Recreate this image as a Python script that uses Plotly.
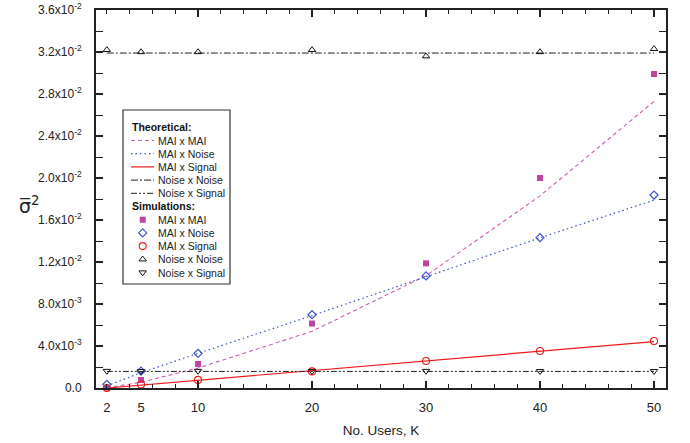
import plotly.graph_objects as go

# ---------------- data ----------------
K = [2, 5, 10, 20, 30, 40, 50]

# theoretical curves
theo_mai_mai = [0.00002, 0.00055, 0.0019, 0.0054, 0.0107, 0.0183, 0.0273]
theo_mai_noise = [0.0002, 0.00146, 0.0033, 0.0069, 0.0106, 0.0143, 0.0179]
theo_mai_signal = [0.0, 0.00028, 0.00074, 0.00166, 0.00258, 0.0035, 0.00442]
theo_noise_noise = [0.0319, 0.0319, 0.0319, 0.0319, 0.0319, 0.0319, 0.0319]
theo_noise_signal = [0.00158, 0.00158, 0.00158, 0.00158, 0.00158, 0.00158, 0.00158]

# simulations
sim_mai_mai = [0.00002, 0.00076, 0.00229, 0.00614, 0.01187, 0.02, 0.0299]
sim_mai_noise = [0.00035, 0.0016, 0.0033, 0.00698, 0.01067, 0.01432, 0.01838]
sim_mai_signal = [0.0, 0.00034, 0.00077, 0.00158, 0.00257, 0.00352, 0.00448]
sim_noise_noise = [0.0322, 0.032, 0.032, 0.0322, 0.0316, 0.032, 0.0323]
sim_noise_signal = [0.00162, 0.0016, 0.00162, 0.0016, 0.00162, 0.0016, 0.0016]

x_tick_vals = [2, 5, 10, 20, 30, 40, 50]
x_tick_text = ["2", "5", "10", "20", "30", "40", "50"]
x_major = [10, 20, 30, 40, 50]
y_tick_vals = [0, 0.004, 0.008, 0.012, 0.016, 0.020, 0.024, 0.028, 0.032, 0.036]
y_tick_text = ["0.0", "4.0x10<sup>-3</sup>", "8.0x10<sup>-3</sup>",
               "1.2x10<sup>-2</sup>", "1.6x10<sup>-2</sup>", "2.0x10<sup>-2</sup>",
               "2.4x10<sup>-2</sup>", "2.8x10<sup>-2</sup>", "3.2x10<sup>-2</sup>",
               "3.6x10<sup>-2</sup>"]

series_names = ["MAI x MAI", "MAI x Noise", "MAI x Signal", "Noise x Noise", "Noise x Signal"]

# ---------------- styles ----------------
C_MAG_L = "#CC5CB4"
C_MAG_M = "#C0449E"
C_BLUE = "#3A56C8"
C_RED = "#F01818"
C_BLK = "#222222"

line_styles = [
    dict(color=C_MAG_L, width=1.1, dash="4px,3px"),
    dict(color=C_BLUE, width=1.2, dash="1.5px,3px"),
    dict(color=C_RED, width=1.2, dash="solid"),
    dict(color=C_BLK, width=1, dash="7px,2px,2px,2px"),
    dict(color=C_BLK, width=1, dash="6px,2px,2px,2px,2px,2px"),
]
marker_styles = [
    dict(symbol="square", size=6, color=C_MAG_M, line=dict(width=0)),
    dict(symbol="diamond-open", size=6.2, color=C_BLUE, line=dict(width=1.2, color=C_BLUE)),
    dict(symbol="circle-open", size=7, color=C_RED, line=dict(width=1.1, color=C_RED)),
    dict(symbol="triangle-up-open", size=6.5, color="#111111", line=dict(width=1, color="#111111")),
    dict(symbol="triangle-down-open", size=6.5, color="#111111", line=dict(width=1, color="#111111")),
]

theo = [theo_mai_mai, theo_mai_noise, theo_mai_signal, theo_noise_noise, theo_noise_signal]
sims = [sim_mai_mai, sim_mai_noise, sim_mai_signal, sim_noise_noise, sim_noise_signal]

fig = go.Figure()

for name, ys, ls in zip(series_names, theo, line_styles):
    fig.add_trace(go.Scatter(x=K, y=ys, mode="lines", line=ls, name=name,
                             showlegend=False, hoverinfo="skip"))
for name, ys, ms in zip(series_names, sims, marker_styles):
    fig.add_trace(go.Scatter(x=K, y=ys, mode="markers", marker=ms, name=name,
                             showlegend=False, cliponaxis=False))

# ---------------- manual legend (paper coords of the plot area) ----------------
W, H = 570.0, 378.0  # plot area in px
def fx(px):
    return (px - 96.0) / W
def fy(py):
    return (388.0 - py) / H

row_y = [127.3 + 13.2 * i for i in range(12)]
FONT = "Liberation Sans, Arial, sans-serif"

shapes = [dict(type="rect", xref="paper", yref="paper",
               x0=fx(123), x1=fx(230), y0=fy(284), y1=fy(110),
               line=dict(color="#333333", width=1.2), fillcolor="white", layer="below")]
annotations = []

def header(text, py):
    annotations.append(dict(xref="paper", yref="paper", x=fx(130), y=fy(py),
                            text="<b>" + text + "</b>", showarrow=False,
                            xanchor="left", yanchor="middle",
                            font=dict(family=FONT, size=10.5, color="#111111")))

def label(text, py):
    annotations.append(dict(xref="paper", yref="paper", x=fx(156), y=fy(py),
                            text=text, showarrow=False, xanchor="left", yanchor="middle",
                            font=dict(family=FONT, size=10.5, color="#222222")))

header("Theoretical:", row_y[0])
for i, (name, ls) in enumerate(zip(series_names, line_styles)):
    py = row_y[1 + i]
    shapes.append(dict(type="line", xref="paper", yref="paper",
                       x0=fx(131), x1=fx(154), y0=fy(py), y1=fy(py),
                       line=ls, layer="above"))
    label(name, py)
header("Simulations:", row_y[6])
for i, (name, ms) in enumerate(zip(series_names, marker_styles)):
    py = row_y[7 + i]
    fig.add_trace(go.Scatter(x=[fx(142.7)], y=[fy(py)], mode="markers",
                             marker=ms, xaxis="x2", yaxis="y2",
                             showlegend=False, hoverinfo="skip"))
    label(name, py)

# y axis title
annotations.append(dict(xref="paper", yref="paper", x=fx(29), y=fy(205),
                        text="\u03c3\u0305<sup>2</sup>", showarrow=False,
                        xanchor="center", yanchor="middle",
                        font=dict(family="DejaVu Sans, sans-serif", size=19, color="#222222")))

axis_common = dict(showline=True, linecolor="#222222", linewidth=2, mirror="allticks",
                   showgrid=False, zeroline=False, automargin=False)

fig.update_layout(
    width=690, height=443,
    margin=dict(l=96, r=24, t=10, b=55),
    paper_bgcolor="white", plot_bgcolor="white",
    font=dict(family=FONT, size=11, color="#222222"),
    showlegend=False,
    xaxis=dict(range=[1.05, 51.05], tickmode="array", tickvals=x_tick_vals,
               ticktext=x_tick_text, ticks="", tickfont=dict(size=13, family=FONT),
               ticklabelstandoff=6,
               title=dict(text="No. Users, K", font=dict(size=13.5, family=FONT), standoff=12),
               **axis_common),
    xaxis3=dict(range=[1.05, 51.05], overlaying="x", matches="x", tickmode="array",
                tickvals=x_major, showticklabels=False, ticks="inside", ticklen=7,
                tickwidth=1.5, tickcolor="#222222",
                minor=dict(tickmode="linear", tick0=0, dtick=2, ticks="inside",
                           ticklen=4, tickwidth=1.2, tickcolor="#222222"),
                **axis_common),
    yaxis=dict(range=[0, 0.036], tickmode="array", tickvals=y_tick_vals,
               ticktext=y_tick_text, ticks="inside", ticklen=7, tickwidth=1.5,
               tickcolor="#222222", tickfont=dict(size=12, family=FONT),
               minor=dict(tickmode="linear", tick0=0, dtick=0.002, ticks="inside",
                          ticklen=4, tickwidth=1.2, tickcolor="#222222"),
               ticklabelstandoff=10,
               **axis_common),
    xaxis2=dict(range=[0, 1], overlaying="x", visible=False, fixedrange=True),
    yaxis2=dict(range=[0, 1], overlaying="y", visible=False, fixedrange=True),
    shapes=shapes,
    annotations=annotations,
)

# dummy trace to make xaxis3 render
fig.add_trace(go.Scatter(x=[None], y=[None], xaxis="x3", yaxis="y", showlegend=False))

fig.write_html("out.html")
